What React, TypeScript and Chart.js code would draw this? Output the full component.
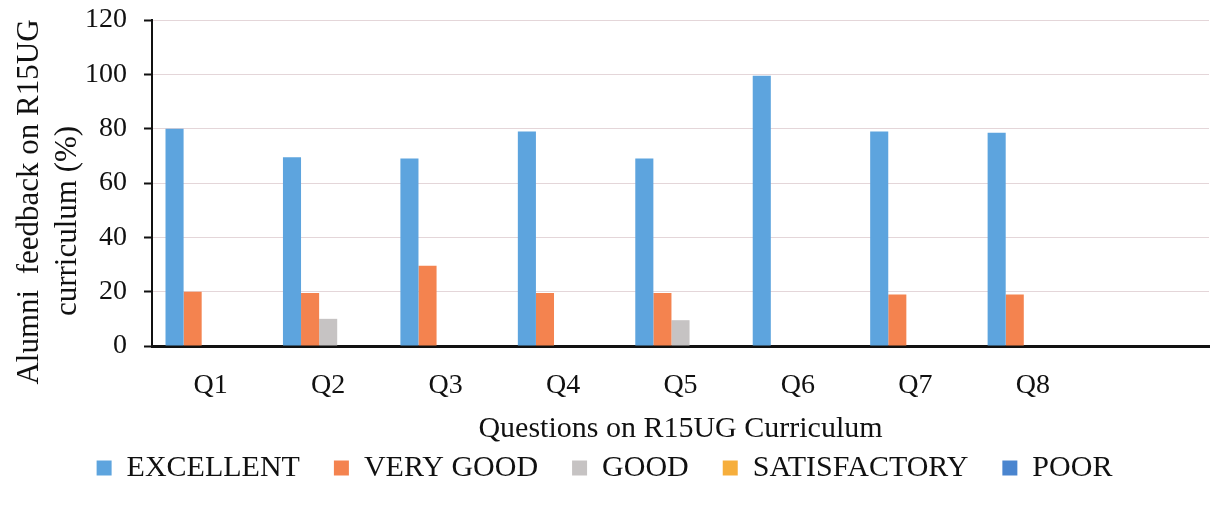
import React, { useEffect, useRef } from "react";
import { Chart, registerables } from "chart.js";

Chart.register(...registerables);

const categories = ["Q1", "Q2", "Q3", "Q4", "Q5", "Q6", "Q7", "Q8", ""];
const excellent = [80, 69.5, 69, 79, 69, 99.5, 79, 78.5, null];
const veryGood = [20, 19.5, 29.5, 19.5, 19.5, 0, 19, 19, null];
const good = [0, 10, 0, 0, 9.5, 0, 0, 0, null];
const satisfactory = [0, 0, 0, 0, 0, 0, 0, 0, null];
const poor = [0, 0, 0, 0, 0, 0, 0, 0, null];
const seriesNames = ["EXCELLENT", "VERY GOOD", "GOOD", "SATISFACTORY", "POOR"];
const seriesColors = ["#5DA4DE", "#F4834F", "#C6C3C3", "#F6AE3C", "#4A85CF"];
const yTitleLines = ["Alumni  feedback on R15UG", "curriculum (%)"];
const xTitle = "Questions on R15UG Curriculum";

const FONT = "'Liberation Serif', 'Times New Roman', serif";

const yTitlePlugin = {
  id: "yTitlePlugin",
  afterDraw(chart: any) {
    const ctx = chart.ctx;
    ctx.save();
    ctx.font = `31px ${FONT}`;
    ctx.fillStyle = "#111";
    ctx.textAlign = "center";
    ctx.textBaseline = "middle";
    const pos = [
      { x: 30, y: 202 },
      { x: 68, y: 221 },
    ];
    yTitleLines.forEach((t, i) => {
      ctx.save();
      ctx.translate(pos[i].x, pos[i].y);
      ctx.rotate(-Math.PI / 2);
      ctx.fillText(t, 0, 0);
      ctx.restore();
    });
    ctx.restore();
  },
};

export default function App() {
  const ref = useRef<HTMLCanvasElement | null>(null);
  useEffect(() => {
    if (!ref.current) return;
    const data = [excellent, veryGood, good, satisfactory, poor];
    const chart = new Chart(ref.current, {
      type: "bar",
      data: {
        labels: categories,
        datasets: data.map((d, i) => ({
          label: seriesNames[i],
          data: d,
          backgroundColor: seriesColors[i],
          borderWidth: 0,
          barPercentage: 1,
          categoryPercentage: 0.77,
        })),
      },
      options: {
        responsive: false,
        animation: false,
        layout: { padding: { left: 0, top: 20, right: 9, bottom: 17 } },
        plugins: {
          tooltip: { enabled: false },
          legend: {
            position: "bottom",
            labels: {
              boxWidth: 15,
              boxHeight: 15,
              padding: 34,
              color: "#111",
              font: { family: FONT, size: 30 },
            },
          },
        },
        scales: {
          x: {
            grid: { display: false },
            border: { display: true, color: "#111", width: 3 },
            ticks: {
              color: "#111",
              padding: 15,
              font: { family: FONT, size: 28 },
            },
            title: {
              display: true,
              text: xTitle,
              color: "#111",
              font: { family: FONT, size: 30 },
              padding: { top: 0, bottom: -28 },
            },
            afterFit: (s: any) => {
              s.height = 73;
              s.paddingLeft = 0;
              s.paddingRight = 0;
            },
          },
          y: {
            min: 0,
            max: 120,
            ticks: {
              stepSize: 20,
              color: "#111",
              padding: 17,
              font: { family: FONT, size: 28 },
            },
            grid: {
              color: "#E4D6D9",
              lineWidth: 1,
              tickLength: 8,
              tickColor: "#111",
              tickWidth: 2,
            },
            border: { display: true, color: "#111", width: 2 },
            afterFit: (s: any) => {
              s.width = 152;
              s.paddingTop = 0;
              s.paddingBottom = 0;
            },
          },
        },
      },
      plugins: [yTitlePlugin],
    });
    return () => chart.destroy();
  }, []);
  return (
    <div style={{ position: "absolute", left: 0, top: 0, width: 1218, height: 510, background: "#fff" }}>
      <canvas ref={ref} width={1218} height={510} style={{ width: 1218, height: 510 }} />
    </div>
  );
}
